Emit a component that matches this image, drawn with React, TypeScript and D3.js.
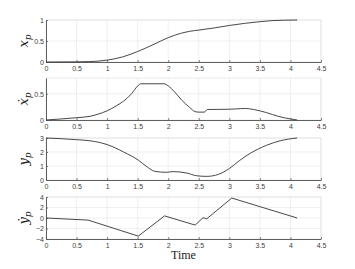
import React, { useEffect, useRef } from 'react';
import * as d3 from 'd3';

// x_p
const xpT = [0, 0.5, 0.7, 0.85, 1, 1.25, 1.5, 1.75, 2, 2.2, 2.35, 2.5, 2.75, 3, 3.25, 3.5, 3.7, 3.9, 4.11];
const xpV = [0, 0.003, 0.01, 0.02, 0.045, 0.12, 0.25, 0.41, 0.58, 0.68, 0.73, 0.76, 0.81, 0.87, 0.92, 0.96, 0.985, 0.995, 1.0];

// x_p dot
const xdT = [0, 0.5, 0.72, 0.85, 1, 1.15, 1.27, 1.4, 1.51, 1.55, 1.93, 2.0, 2.1, 2.22, 2.35, 2.44, 2.5, 2.59, 2.64, 2.98, 3.1, 3.26, 3.4, 3.61, 3.8, 4.0, 4.11];
const xdV = [0, 0.044, 0.07, 0.11, 0.175, 0.27, 0.36, 0.5, 0.66, 0.69, 0.69, 0.65, 0.54, 0.38, 0.24, 0.16, 0.15, 0.15, 0.2, 0.205, 0.21, 0.22, 0.2, 0.14, 0.07, 0.02, 0];

// y_p
const ypT = [0, 0.5, 0.72, 1, 1.27, 1.51, 1.65, 1.78, 1.97, 2.08, 2.3, 2.47, 2.63, 2.82, 3.0, 3.17, 3.34, 3.61, 3.83, 4.11];
const ypV = [3, 2.88, 2.8, 2.53, 2.0, 1.42, 0.95, 0.62, 0.55, 0.6, 0.5, 0.3, 0.26, 0.4, 0.82, 1.4, 1.9, 2.48, 2.8, 3.0];

// y_p dot
const ydT = [0, 0.69, 1.51, 1.94, 2.44, 2.57, 2.63, 3.04, 4.11];
const ydV = [0, -0.4, -3.45, 0.4, -1.35, 0.05, -0.15, 3.8, 0];

const xTicks = [0, 0.5, 1, 1.5, 2, 2.5, 3, 3.5, 4, 4.5];

const panels = [
  { t: xpT, v: xpV, domain: [0, 1], ticks: [0, 0.5, 1], label: 'x', smooth: true },
  { t: xdT, v: xdV, domain: [0, 0.8], ticks: [0, 0.5], label: '\u1E8B', smooth: true },
  { t: ypT, v: ypV, domain: [0, 3], ticks: [0, 1, 2, 3], label: 'y', smooth: true },
  { t: ydT, v: ydV, domain: [-4, 4], ticks: [-4, -2, 0, 2, 4], label: '\u1E8F', smooth: false },
];

const tops = [20, 78, 138, 197];

const App = () => {
  const svgRef = useRef(null);

  useEffect(() => {
    const svg = d3.select(svgRef.current);
    svg.selectAll('*').remove();
    const left = 46, right = 321, h = 42;
    const x = d3.scaleLinear().domain([0, 4.5]).range([left, right]);

    panels.forEach((p, i) => {
      const top = tops[i];
      const y = d3.scaleLinear().domain(p.domain).range([top + h, top]);
      const g = svg.append('g');

      // grid
      g.selectAll('.gx').data(xTicks).enter().append('line')
        .attr('x1', d => x(d)).attr('x2', d => x(d))
        .attr('y1', top).attr('y2', top + h)
        .attr('stroke', '#e6e6e6').attr('stroke-width', 0.6);
      g.selectAll('.gy').data(p.ticks).enter().append('line')
        .attr('x1', left).attr('x2', right)
        .attr('y1', d => y(d)).attr('y2', d => y(d))
        .attr('stroke', '#e6e6e6').attr('stroke-width', 0.6);
      g.append('line').attr('x1', left).attr('x2', right).attr('y1', top).attr('y2', top)
        .attr('stroke', '#dcdcdc').attr('stroke-width', 0.6);
      g.append('line').attr('x1', right).attr('x2', right).attr('y1', top).attr('y2', top + h)
        .attr('stroke', '#dcdcdc').attr('stroke-width', 0.6);

      // axes
      const xa = g.append('g').attr('transform', `translate(0,${top + h})`)
        .call(d3.axisBottom(x).tickValues(xTicks).tickSizeInner(-2).tickSizeOuter(0).tickPadding(4).tickFormat(d3.format('')));
      const ya = g.append('g').attr('transform', `translate(${left},0)`)
        .call(d3.axisLeft(y).tickValues(p.ticks).tickSizeInner(-2).tickSizeOuter(0).tickPadding(2).tickFormat(d3.format('')));
      [xa, ya].forEach(a => {
        a.select('.domain').attr('stroke', '#4d4d4d').attr('stroke-width', 0.9);
        a.selectAll('line').attr('stroke', '#4d4d4d').attr('stroke-width', 0.7);
        a.selectAll('text').attr('fill', '#404040').attr('font-size', 7)
          .attr('font-family', 'Liberation Sans, Arial, sans-serif');
      });

      const line = d3.line<number>().x((d, k) => x(p.t[k])).y(d => y(d))
        .curve(p.smooth ? d3.curveMonotoneX : d3.curveLinear);
      g.append('path').datum(p.v).attr('d', line).attr('fill', 'none')
        .attr('stroke', '#333').attr('stroke-width', 0.9);

      // y label
      const cy = top + h / 2;
      const lab = g.append('text')
        .attr('transform', `translate(28,${cy}) rotate(-90)`)
        .attr('text-anchor', 'middle')
        .attr('font-family', 'DejaVu Serif, serif')
        .attr('font-style', 'italic')
        .attr('font-size', 13)
        .attr('fill', '#222');
      lab.append('tspan').text(p.label);
      lab.append('tspan').attr('font-size', 9).attr('dy', 3).text('p');
    });

    svg.append('text').attr('x', (left + right) / 2).attr('y', 259)
      .attr('text-anchor', 'middle').attr('font-family', 'Liberation Serif, serif')
      .attr('font-size', 12).attr('fill', '#222').text('Time');
  }, []);

  return (
    <svg ref={svgRef} width={355} height={269} style={{ position: 'absolute', left: 0, top: 0, background: '#fff' }} />
  );
};

export default App;
